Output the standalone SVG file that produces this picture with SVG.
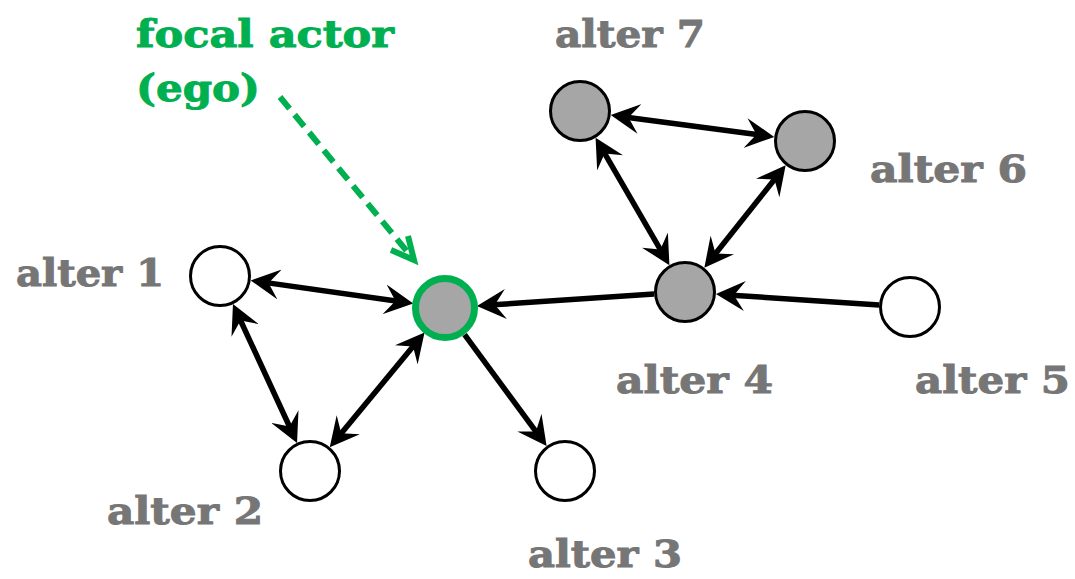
<svg xmlns="http://www.w3.org/2000/svg" width="1075" height="579" viewBox="0 0 1075 579">
<style>
  .lbl { font-family: "DejaVu Serif", "Liberation Serif", serif; font-weight: bold; font-size: 38px; fill: #767676; stroke: #767676; stroke-width: 1; }
  .focal { font-family: "DejaVu Serif", "Liberation Serif", serif; font-weight: bold; font-size: 38px; fill: #00B050; stroke: #00B050; stroke-width: 1; }
  .edge { stroke: #000; stroke-width: 5.5; fill: none; }
  .white { fill: #fff; stroke: #000; stroke-width: 3; }
  .grey { fill: #A6A6A6; stroke: #000; stroke-width: 3; }
  .egoc { fill: #A6A6A6; stroke: #00B050; stroke-width: 7; }
  .hint { stroke: #00B050; stroke-width: 6; fill: none; }
</style>
<defs>
  <marker id="arr" viewBox="0 0 29 30" refX="17" refY="15" markerWidth="29" markerHeight="30" markerUnits="userSpaceOnUse" orient="auto-start-reverse">
    <path d="M29,15 L0,0 L11,15 L0,30 Z" fill="#000"/>
  </marker>
</defs>
<rect width="1075" height="579" fill="#fff"/>

<g id="connectors">
  <line class="edge" x1="262.6" y1="282.1" x2="401.4" y2="301.8" marker-start="url(#arr)" marker-end="url(#arr)"/>
  <line class="edge" x1="238.0" y1="315.0" x2="292.0" y2="432.0" marker-start="url(#arr)" marker-end="url(#arr)"/>
  <line class="edge" x1="337.4" y1="437.9" x2="416.9" y2="341.8" marker-start="url(#arr)" marker-end="url(#arr)"/>
  <line class="edge" x1="464.6" y1="334.6" x2="539.5" y2="436.4" marker-end="url(#arr)"/>
  <line class="edge" x1="654.1" y1="294.1" x2="488.9" y2="305.1" marker-end="url(#arr)"/>
  <line class="edge" x1="879.1" y1="304.9" x2="727.9" y2="294.9" marker-end="url(#arr)"/>
  <line class="edge" x1="622.6" y1="116.7" x2="762.4" y2="135.3" marker-start="url(#arr)" marker-end="url(#arr)"/>
  <line class="edge" x1="601.6" y1="148.2" x2="663.4" y2="254.8" marker-start="url(#arr)" marker-end="url(#arr)"/>
  <line class="edge" x1="778.2" y1="174.7" x2="711.8" y2="258.3" marker-start="url(#arr)" marker-end="url(#arr)"/>
  <g id="ego-pointer">
    <line class="hint" x1="280" y1="97" x2="410" y2="255" stroke-dasharray="15 8"/>
    <polyline class="hint" points="391,250 414,260 408,236" stroke-linejoin="miter"/>
  </g>
</g>

<g id="ego">
  <circle class="egoc" cx="445" cy="308" r="29.5"/>
  <text class="focal" x="136" y="47" textLength="258" lengthAdjust="spacingAndGlyphs">focal actor</text>
  <text class="focal" x="136" y="101" textLength="124" lengthAdjust="spacingAndGlyphs">(ego)</text>
</g>
<g id="alter1">
  <circle class="white" cx="220" cy="276" r="29.5"/>
  <text class="lbl" x="16" y="286" textLength="148" lengthAdjust="spacingAndGlyphs">alter 1</text>
</g>
<g id="alter2">
  <circle class="white" cx="310" cy="471" r="29.5"/>
  <text class="lbl" x="107" y="524" textLength="156" lengthAdjust="spacingAndGlyphs">alter 2</text>
</g>
<g id="alter3">
  <circle class="white" cx="565" cy="471" r="29.5"/>
  <text class="lbl" x="528" y="567" textLength="154" lengthAdjust="spacingAndGlyphs">alter 3</text>
</g>
<g id="alter4">
  <circle class="grey" cx="685" cy="292" r="29.5"/>
  <text class="lbl" x="616" y="393" textLength="157" lengthAdjust="spacingAndGlyphs">alter 4</text>
</g>
<g id="alter5">
  <circle class="white" cx="910" cy="307" r="29.5"/>
  <text class="lbl" x="915" y="393" textLength="155" lengthAdjust="spacingAndGlyphs">alter 5</text>
</g>
<g id="alter6">
  <circle class="grey" cx="805" cy="141" r="29.5"/>
  <text class="lbl" x="870" y="182" textLength="157" lengthAdjust="spacingAndGlyphs">alter 6</text>
</g>
<g id="alter7">
  <circle class="grey" cx="580" cy="111" r="29.5"/>
  <text class="lbl" x="555" y="47" textLength="150" lengthAdjust="spacingAndGlyphs">alter 7</text>
</g>
</svg>
